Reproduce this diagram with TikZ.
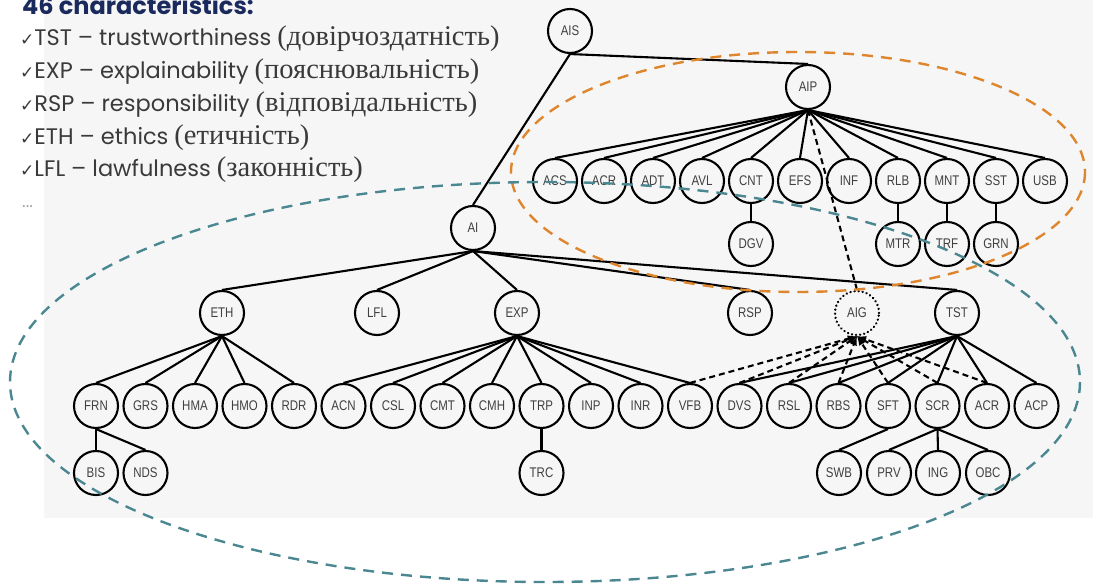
\documentclass[tikz,border=0pt]{standalone}
\usepackage{fontspec}
\setmainfont{Poppins}
\newfontfamily\cyrfont{Liberation Serif}
\newfontfamily\symfont{DejaVu Sans}
\newfontfamily\nodefont[FakeStretch=0.82]{Liberation Sans}
\usetikzlibrary{positioning,arrows}
\definecolor{navy}{RGB}{27,42,92}
\definecolor{bodygray}{RGB}{58,58,58}
\definecolor{ovalorange}{RGB}{222,134,46}
\definecolor{ovalteal}{RGB}{74,135,145}
\definecolor{panel}{RGB}{246,246,246}

\tikzset{
  char/.style={circle, draw, line width=2.1pt, minimum size=44pt, inner sep=0pt,
    font=\nodefont\fontsize{14}{15}\selectfont, text=black!75},
  guess/.style={char, dash pattern=on 0.1pt off 4pt, line cap=round, line width=2.5pt},
  tie/.style={line width=2.1pt},
  dashtie/.style={line width=2.1pt, dash pattern=on 6pt off 4pt},
  oval/.style={line width=2.4pt, dash pattern=on 11pt off 8pt},
  txt/.style={anchor=base west, inner sep=0pt, text=bodygray, font=\fontsize{22.5}{24}\selectfont}
}
\newcommand{\ck}{{\symfont\fontsize{17}{18}\selectfont\char"2713}}
\newcommand{\ua}[1]{{\cyrfont\fontsize{28.5}{30}\selectfont #1}}

\begin{document}
\begin{tikzpicture}[x=1pt, y=-1pt]

      \useasboundingbox (0,0) rectangle (1112,586);
      \fill [white] (0,0) rectangle (1112,586);
      \fill [panel] (44,-5) rectangle (1093,518);

      % legend
      \node [txt, text=navy, font=\bfseries\fontsize{24}{26}\selectfont] at (22, 15) (title) {46 characteristics:};
      \node [txt] at (20, 46) (ltst) {\ck TST -- trustworthiness \ua{(довірчоздатність)}};
      \node [txt] at (20, 79) (lexp) {\ck EXP -- explainability \ua{(пояснювальність)}};
      \node [txt] at (20, 111) (lrsp) {\ck RSP -- responsibility \ua{(відповідальність)}};
      \node [txt] at (20, 144) (leth) {\ck ETH -- ethics \ua{(етичність)}};
      \node [txt] at (20, 176) (llfl) {\ck LFL -- lawfulness \ua{(законність)}};
      \node [txt, text=black!35, font=\fontsize{17}{18}\selectfont] at (22, 207) (more) {...};

      % top levels
      \node [char] at (570, 31) (ais) {AIS};
      \node [char] at (808, 87) (aip) {AIP};
      \node [char] at (473, 228) (ai) {AI};

      % AIP row
      \node [char] at (555, 181) (acs) {ACS};
      \node [char] at (604, 181) (acra) {ACR};
      \node [char] at (653, 181) (adt) {ADT};
      \node [char] at (702, 181) (avl) {AVL};
      \node [char] at (751, 181) (cnt) {CNT};
      \node [char] at (800, 181) (efs) {EFS};
      \node [char] at (849, 181) (inf) {INF};
      \node [char] at (898, 181) (rlb) {RLB};
      \node [char] at (947, 181) (mnt) {MNT};
      \node [char] at (996, 181) (sst) {SST};
      \node [char] at (1045, 181) (usb) {USB};
      \node [char] at (751, 244) (dgv) {DGV};
      \node [char] at (898, 244) (mtr) {MTR};
      \node [char] at (947, 244) (trf) {TRF};
      \node [char] at (996, 244) (grn) {GRN};

      % AI row
      \node [char] at (222, 313) (eth) {ETH};
      \node [char] at (377, 313) (lfl) {LFL};
      \node [char] at (517, 313) (exp) {EXP};
      \node [char] at (750, 313) (rsp) {RSP};
      \node [guess] at (857, 313) (aig) {AIG};
      \node [char] at (957, 313) (tst) {TST};

      % lower row
      \node [char] at (96, 406) (frn) {FRN};
      \node [char] at (145.5, 406) (grs) {GRS};
      \node [char] at (195, 406) (hma) {HMA};
      \node [char] at (244.5, 406) (hmo) {HMO};
      \node [char] at (294, 406) (rdr) {RDR};
      \node [char] at (343.5, 406) (acn) {ACN};
      \node [char] at (393, 406) (csl) {CSL};
      \node [char] at (442.5, 406) (cmt) {CMT};
      \node [char] at (492, 406) (cmh) {CMH};
      \node [char] at (541.5, 406) (trp) {TRP};
      \node [char] at (591, 406) (inp) {INP};
      \node [char] at (640.5, 406) (inr) {INR};
      \node [char] at (690, 406) (vfb) {VFB};
      \node [char] at (739.5, 406) (dvs) {DVS};
      \node [char] at (789, 406) (rsl) {RSL};
      \node [char] at (838.5, 406) (rbs) {RBS};
      \node [char] at (888, 406) (sft) {SFT};
      \node [char] at (937.5, 406) (scr) {SCR};
      \node [char] at (987, 406) (acrb) {ACR};
      \node [char] at (1036.5, 406) (acp) {ACP};

      \node [char] at (96, 473) (bis) {BIS};
      \node [char] at (145.5, 473) (nds) {NDS};
      \node [char] at (541.5, 473) (trc) {TRC};
      \node [char] at (839, 473) (swb) {SWB};
      \node [char] at (889, 473) (prv) {PRV};
      \node [char] at (938, 473) (ing) {ING};
      \node [char] at (988, 473) (obc) {OBC};

      % edges
      \draw [tie] (ais.south) -- (ai.north);
      \draw [tie] (ais.south) -- (aip.north);

      \draw [tie] (aip.south) -- (acs.north);
      \draw [tie] (aip.south) -- (acra.north);
      \draw [tie] (aip.south) -- (adt.north);
      \draw [tie] (aip.south) -- (avl.north);
      \draw [tie] (aip.south) -- (cnt.north);
      \draw [tie] (aip.south) -- (efs.north);
      \draw [tie] (aip.south) -- (inf.north);
      \draw [tie] (aip.south) -- (rlb.north);
      \draw [tie] (aip.south) -- (mnt.north);
      \draw [tie] (aip.south) -- (sst.north);
      \draw [tie] (aip.south) -- (usb.north);
      \draw [tie] (cnt.south) -- (dgv.north);
      \draw [tie] (rlb.south) -- (mtr.north);
      \draw [tie] (mnt.south) -- (trf.north);
      \draw [tie] (sst.south) -- (grn.north);
      \draw [dashtie] (aip.south) -- (aig.north);

      \draw [tie] (ai.south) -- (eth.north);
      \draw [tie] (ai.south) -- (lfl.north);
      \draw [tie] (ai.south) -- (exp.north);
      \draw [tie] (ai.south) -- (rsp.north);
      \draw [tie] (ai.south) -- (tst.north);

      \draw [tie] (eth.south) -- (frn.north);
      \draw [tie] (eth.south) -- (grs.north);
      \draw [tie] (eth.south) -- (hma.north);
      \draw [tie] (eth.south) -- (hmo.north);
      \draw [tie] (eth.south) -- (rdr.north);
      \draw [tie] (frn.south) -- (bis.north);
      \draw [tie] (frn.south) -- (nds.north);

      \draw [tie] (exp.south) -- (acn.north);
      \draw [tie] (exp.south) -- (csl.north);
      \draw [tie] (exp.south) -- (cmt.north);
      \draw [tie] (exp.south) -- (cmh.north);
      \draw [tie] (exp.south) -- (trp.north);
      \draw [tie] (exp.south) -- (inp.north);
      \draw [tie] (exp.south) -- (inr.north);
      \draw [tie] (exp.south) -- (vfb.north);
      \draw [tie] (trp.south) -- (trc.north);

      \draw [tie] (tst.south) -- (dvs.north);
      \draw [tie] (tst.south) -- (rsl.north);
      \draw [tie] (tst.south) -- (rbs.north);
      \draw [tie] (tst.south) -- (sft.north);
      \draw [tie] (tst.south) -- (scr.north);
      \draw [tie] (tst.south) -- (acrb.north);
      \draw [tie] (tst.south) -- (acp.north);
      \draw [tie] (sft.south) -- (swb.north);
      \draw [tie] (scr.south) -- (prv.north);
      \draw [tie] (scr.south) -- (ing.north);
      \draw [tie] (scr.south) -- (obc.north);

      \draw [dashtie, -latex] (vfb.north) -- (aig.south);
      \draw [dashtie, -latex] (dvs.north) -- (aig.south);
      \draw [dashtie, -latex] (rsl.north) -- (aig.south);
      \draw [dashtie, -latex] (rbs.north) -- (aig.south);
      \draw [dashtie, -latex] (sft.north) -- (aig.south);
      \draw [dashtie, -latex] (scr.north) -- (aig.south);
      \draw [dashtie, -latex] (acrb.north) -- (aig.south);

      % groups
      \draw [oval, ovalorange] (798, 172) ellipse [x radius=287, y radius=120];
      \draw [oval, ovalteal] (545, 382) ellipse [x radius=535, y radius=200];
    \end{tikzpicture}
\end{document}
